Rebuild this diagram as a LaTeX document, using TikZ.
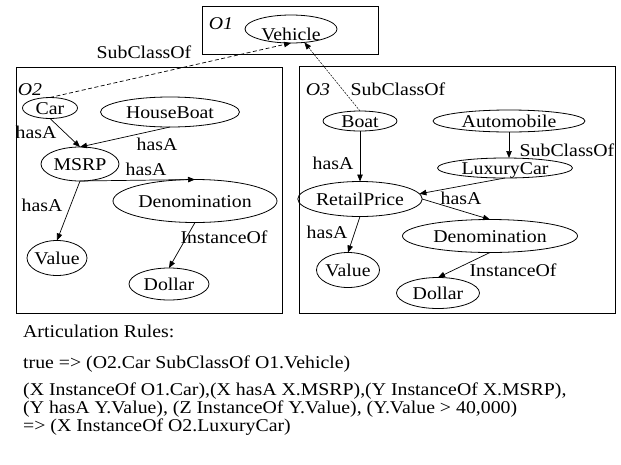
\documentclass[tikz,border=0pt]{standalone}
\usepackage{fontspec}
\setmainfont{Liberation Serif}[FakeStretch=1.1]
\usetikzlibrary{arrows.meta,shapes.geometric}

\begin{document}
\begin{tikzpicture}[x=1pt,y=-1pt,
  txt/.style={inner sep=0pt,font=\fontsize{18}{18}\selectfont},
  ent/.style={txt,draw,ellipse,line width=0.8pt,outer sep=0pt,
    text height=12pt,text depth=0pt},
  tag/.style={txt,font=\fontsize{18}{18}\selectfont\itshape},
  rule/.style={txt,anchor=base west},
  onto/.style={draw,line width=0.8pt},
  rel/.style={-{Triangle[length=7pt,width=5.5pt]},line width=0.7pt},
  link/.style={rel,dash pattern=on 4pt off 2.5pt},
  linkfine/.style={rel,line width=0.5pt,dash pattern=on 2pt off 1.2pt}]
\useasboundingbox (0,0) rectangle (621,464);

% ontology frames
\draw[onto] (202,6) rectangle (378,54);
\draw[onto] (16,67) rectangle (282,313);
\draw[onto] (299,66) rectangle (615,313);
\node[tag] (o1) at (221,24) {O1};
\node[tag] (o2) at (30,90) {O2};
\node[tag] (o3) at (318,90) {O3};

% O1
\node[ent,minimum width=92pt,minimum height=28pt] (vehicle) at (291,29) {\raisebox{-5pt}{Vehicle}};

% O2
\node[ent,minimum width=55pt,minimum height=21pt] (car) at (50,108) {Car};
\node[ent,minimum width=139pt,minimum height=30pt] (houseboat) at (170,112) {HouseBoat};
\node[ent,minimum width=78pt,minimum height=34pt] (msrp) at (80,164) {MSRP};
\node[ent,minimum width=164pt,minimum height=43pt] (deno2) at (195,201) {Denomination};
\node[ent,inner xsep=-4pt,minimum width=60pt,minimum height=35pt] (value2) at (57,258) {Value};
\node[ent,minimum width=80pt,minimum height=32pt] (dollar2) at (169,284) {Dollar};

% O3
\node[ent,minimum width=74pt,minimum height=20pt] (boat) at (360,121) {Boat};
\node[ent,minimum width=152pt,minimum height=22pt] (auto) at (509,121) {Automobile};
\node[ent,minimum width=135pt,minimum height=20pt] (lux) at (505,168) {LuxuryCar};
\node[ent,minimum width=124pt,minimum height=35pt] (retail) at (360,199) {RetailPrice};
\node[ent,minimum width=175pt,minimum height=33pt] (deno3) at (490,236) {Denomination};
\node[ent,inner xsep=-4pt,minimum width=63pt,minimum height=35pt] (value3) at (348,270) {Value};
\node[ent,minimum width=83pt,minimum height=31pt] (dollar3) at (438,293) {Dollar};

% cross-ontology links
\draw[link] (car.north) -- (vehicle.south);
\draw[linkfine] (boat.north) -- (vehicle.315);

% O2 relations
\draw[rel] (car.south) -- (msrp.north);
\draw[rel] (houseboat.south) -- (msrp.north);
\draw[rel] (msrp.south) -- (deno2.north);
\draw[rel] (msrp.south) -- (value2.north);
\draw[rel] (deno2.south) -- (dollar2.north);

% O3 relations
\draw[rel] (boat.south) -- (retail.north);
\draw[rel] (auto.south) -- (auto.south |- lux.north);
\draw[rel] (lux.south) -- (retail.5);
\draw[rel] (retail.east) -- (deno3.north);
\draw[rel] (retail.south) -- (value3.north);
\draw[rel] (deno3.south) -- (dollar3.north);

% relation labels
\node[txt] (l1) at (144,52) {SubClassOf};
\node[txt] (l2) at (36,132) {hasA};
\node[txt] (l3) at (157,144) {hasA};
\node[txt] (l4) at (146,169) {hasA};
\node[txt] (l5) at (42,205) {hasA};
\node[txt] (l6) at (224,237) {InstanceOf};
\node[txt] (l7) at (398,89) {SubClassOf};
\node[txt] (l8) at (333,163) {hasA};
\node[txt] (l9) at (567,150) {SubClassOf};
\node[txt] (l10) at (461,198) {hasA};
\node[txt] (l11) at (327,232) {hasA};
\node[txt] (l12) at (513,270) {InstanceOf};

% articulation rules
\node[rule] (r0) at (23,337) {Articulation Rules:};
\node[rule] (r1) at (23,368) {true => (O2.Car SubClassOf O1.Vehicle)};
\node[rule] (r2) at (23,395) {(X InstanceOf O1.Car),(X hasA X.MSRP),(Y InstanceOf X.MSRP),};
\node[rule] (r3) at (23,413) {(Y hasA Y.Value), (Z InstanceOf Y.Value), (Y.Value > 40,000)};
\node[rule] (r4) at (23,431) {=> (X InstanceOf O2.LuxuryCar)};
\end{tikzpicture}
\end{document}
